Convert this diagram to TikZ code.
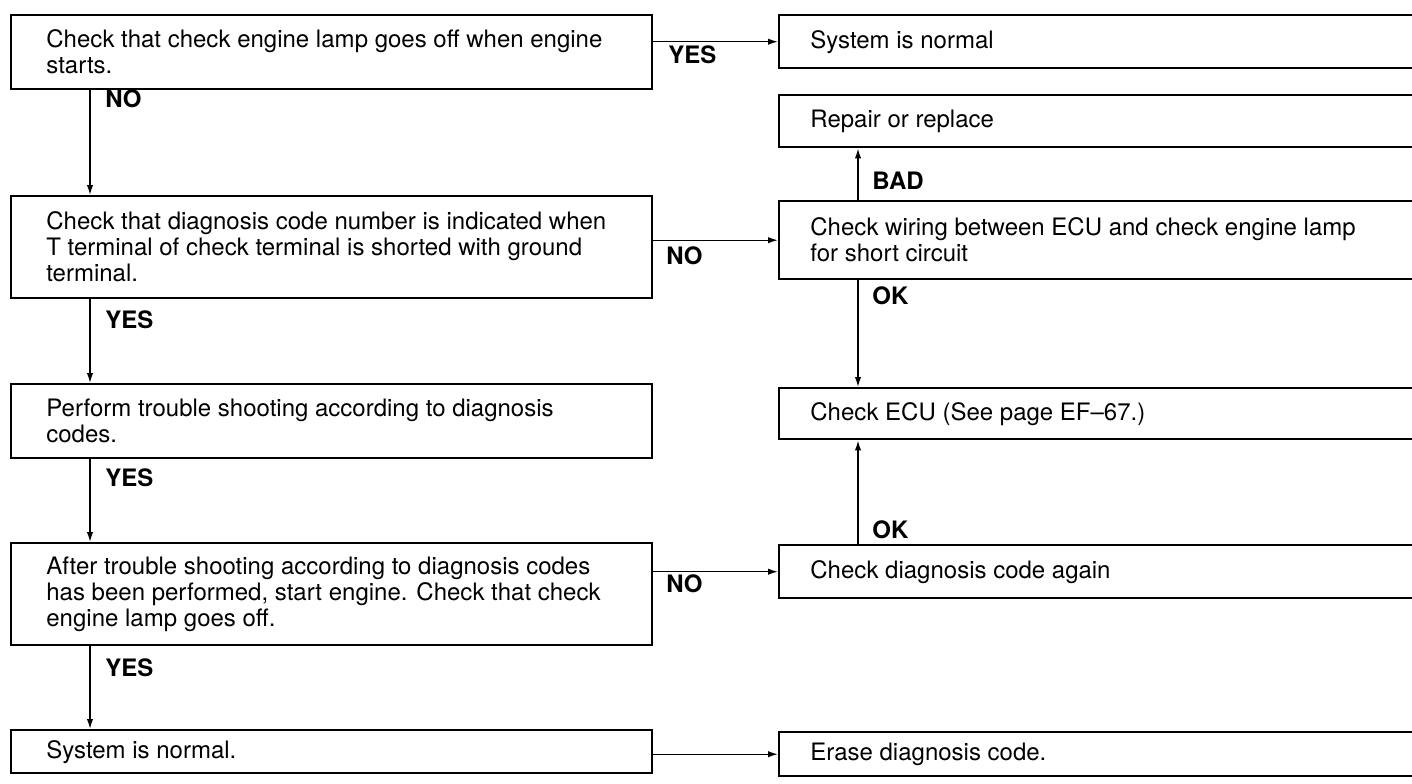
\documentclass[tikz,border=0pt]{standalone}
\usepackage{fontspec}
\setmainfont{TeX Gyre Heros}
\usetikzlibrary{arrows.meta}

\begin{document}
\begin{tikzpicture}[x=0.5pt,y=-0.5pt,
    box/.style={draw,line width=1.2pt,anchor=north west,inner sep=0pt},
    lbox/.style={box,minimum width=320.5pt},
    rbox/.style={box,minimum width=350pt},
    txt/.style={anchor=west,align=left,inner sep=0pt,font=\fontsize{12}{13}\selectfont},
    lbl/.style={anchor=west,inner sep=0pt,font=\fontsize{12}{13}\selectfont\bfseries},
    conn/.style={line width=0.7pt,-{Latex[length=5pt,width=3.2pt]}}]
    \useasboundingbox (0,0) rectangle (1412,783);
    % left column
    \node[lbox,minimum height=37pt] (lamp) at (10,14) {};
    \node[lbox,minimum height=51pt] (code) at (10,195) {};
    \node[lbox,minimum height=37pt] (shoot) at (10,383) {};
    \node[lbox,minimum height=51pt] (after) at (10,542) {};
    \node[lbox,minimum height=21.5pt] (normal) at (10,729) {};
    \node[txt] (lampt) at ([xshift=18pt]lamp.west) {Check that check engine lamp goes off when engine\\starts.};
    \node[txt] (codet) at ([xshift=18pt]code.west) {Check that diagnosis code number is indicated when\\T terminal of check terminal is shorted with ground\\terminal.};
    \node[txt] (shoott) at ([xshift=18pt]shoot.west) {Perform trouble shooting according to diagnosis\\codes.};
    \node[txt] (aftert) at ([xshift=18pt]after.west) {After trouble shooting according to diagnosis codes\\has been performed, start engine. Check that check\\engine lamp goes off.};
    \node[txt] (normalt) at ([xshift=18pt]normal.west) {System is normal.};
    % right column
    \node[rbox,minimum height=26.5pt] (sysok) at (778,14) {};
    \node[rbox,minimum height=26pt] (repair) at (778,94) {};
    \node[rbox,minimum height=39pt] (wiring) at (778,200) {};
    \node[rbox,minimum height=25.5pt] (ecu) at (778,387) {};
    \node[rbox,minimum height=26.5pt] (again) at (778,544) {};
    \node[rbox,minimum height=22pt] (erase) at (778,731) {};
    \node[txt] (sysokt) at ([xshift=16pt]sysok.west) {System is normal};
    \node[txt] (repairt) at ([xshift=16pt]repair.west) {Repair or replace};
    \node[txt] (wiringt) at ([xshift=16pt]wiring.west) {Check wiring between ECU and check engine lamp\\for short circuit};
    \node[txt] (ecut) at ([xshift=16pt]ecu.west) {Check ECU (See page EF--67.)};
    \node[txt] (againt) at ([xshift=16pt]again.west) {Check diagnosis code again};
    \node[txt] (eraset) at ([xshift=16pt]erase.west) {Erase diagnosis code.};
    % connectors
    \draw[conn] ([xshift=40pt]lamp.south west) -- ([xshift=40pt]code.north west);
    \draw[conn] ([xshift=40pt]code.south west) -- ([xshift=40pt]shoot.north west);
    \draw[conn] ([xshift=40pt]shoot.south west) -- ([xshift=40pt]after.north west);
    \draw[conn] ([xshift=40pt]after.south west) -- ([xshift=40pt]normal.north west);
    \draw[conn] (lamp.east |- sysok.west) -- (sysok.west);
    \draw[conn] (code.east |- wiring.west) -- (wiring.west);
    \draw[conn] (after.east |- again.west) -- (again.west);
    \draw[conn] (normal.east |- erase.west) -- (erase.west);
    \draw[conn] ([xshift=40pt]wiring.north west) -- ([xshift=40pt]repair.south west);
    \draw[conn] ([xshift=40pt]wiring.south west) -- ([xshift=40pt]ecu.north west);
    \draw[conn] ([xshift=40pt]again.north west) -- ([xshift=40pt]ecu.south west);
    % labels
    \node[lbl] (no1) at (105,99) {NO};
    \node[lbl] (yes1) at (668,55) {YES};
    \node[lbl] (no2) at (666,256) {NO};
    \node[lbl] (yes2) at (105,320) {YES};
    \node[lbl] (yes3) at (105,478) {YES};
    \node[lbl] (no3) at (666,584) {NO};
    \node[lbl] (yes4) at (105,668) {YES};
    \node[lbl] (bad) at (872,181) {BAD};
    \node[lbl] (ok1) at (872,296) {OK};
    \node[lbl] (ok2) at (872,530) {OK};
\end{tikzpicture}
\end{document}
